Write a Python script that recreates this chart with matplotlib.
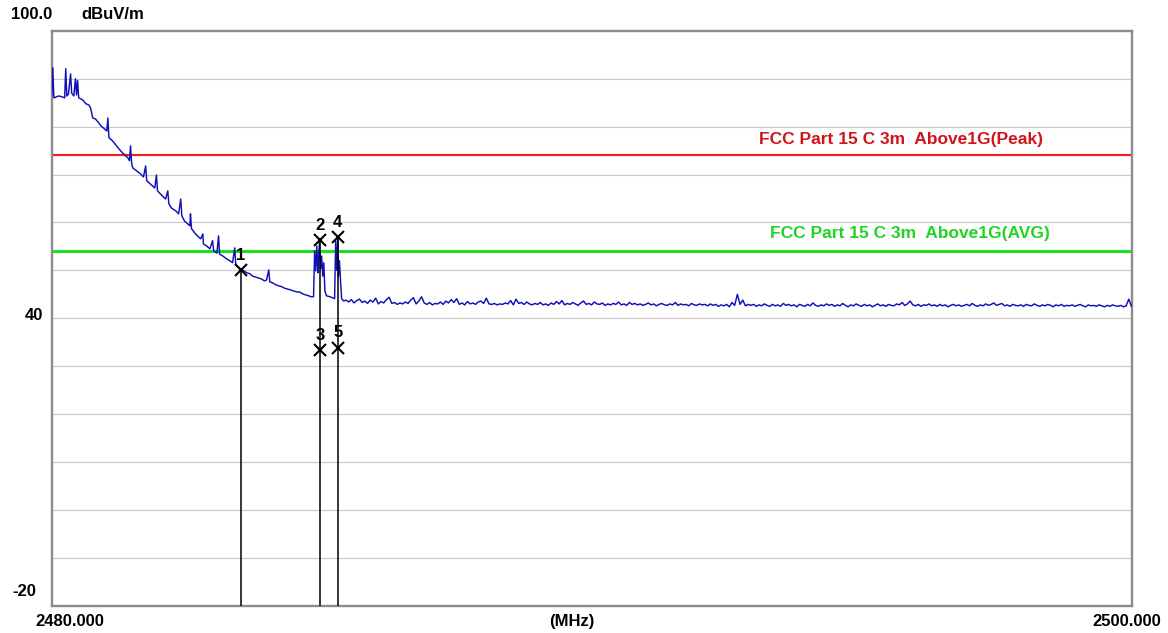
import numpy as np
import matplotlib
matplotlib.use("Agg")
import matplotlib.pyplot as plt

# ---------------- data ----------------
x_min, x_max = 2480.0, 2500.0
y_min, y_max = -20.0, 100.0
grid_levels = [-10, 0, 10, 20, 30, 40, 50, 60, 70, 80, 90]

# Trace, part A (band-edge skirt, irregular points): offset from 2480 MHz, level dBuV/m
seg_a_offset = [0.00, 0.02, 0.04, 0.13, 0.20, 0.24, 0.26, 0.28, 0.31, 0.35, 0.37, 0.41, 0.44, 0.46,
                0.48, 0.50, 0.54, 0.59, 0.63, 0.69, 0.72, 0.76, 0.81, 0.87, 0.91, 0.98, 1.02, 1.04,
                1.06, 1.13, 1.20, 1.28, 1.35, 1.41, 1.44, 1.46, 1.48, 1.50, 1.57, 1.65, 1.70, 1.74,
                1.76, 1.80, 1.87, 1.91, 1.94, 1.96, 2.02, 2.07, 2.11, 2.15, 2.17, 2.22, 2.30, 2.35,
                2.39, 2.41, 2.46, 2.52, 2.56, 2.57, 2.59, 2.65, 2.70, 2.76, 2.80, 2.81, 2.87, 2.93,
                2.98, 3.00, 3.06, 3.09, 3.11, 3.17, 3.24, 3.30, 3.35, 3.39, 3.41, 3.46, 3.50, 3.56,
                3.61, 3.67, 3.72, 3.78, 3.83, 3.89, 3.94, 3.98, 4.02, 4.04, 4.09, 4.15, 4.20, 4.26,
                4.31, 4.37, 4.43, 4.48, 4.54, 4.59, 4.65, 4.70, 4.76, 4.80, 4.85, 4.87, 4.89, 4.91,
                4.93, 4.94, 4.96, 4.98, 5.00, 5.02, 5.04, 5.06, 5.09, 5.15, 5.20, 5.24, 5.26, 5.28,
                5.30, 5.31, 5.33, 5.35, 5.37, 5.41]
seg_a_level = [86.4, 92.3, 86.0, 86.4, 86.2, 86.0, 92.1, 86.4, 86.8, 91.0, 87.0, 86.4, 90.0, 86.6,
               89.6, 86.0, 85.8, 85.4, 84.8, 84.5, 83.9, 81.8, 81.6, 80.8, 80.2, 79.5, 79.1, 81.8,
               77.7, 77.0, 76.0, 74.9, 74.1, 73.5, 72.9, 76.0, 72.4, 71.4, 70.8, 70.1, 69.5, 71.8,
               68.7, 68.3, 67.6, 67.2, 69.9, 66.6, 65.9, 65.3, 64.9, 66.6, 63.9, 63.0, 62.4, 61.8,
               64.9, 61.4, 60.3, 59.7, 59.3, 61.8, 58.7, 57.8, 57.2, 56.6, 57.6, 55.5, 55.1, 54.5,
               56.2, 54.1, 53.6, 57.2, 53.4, 53.0, 52.4, 52.0, 51.6, 54.7, 51.1, 50.7, 50.3, 49.9,
               49.5, 49.3, 48.8, 48.6, 48.4, 48.2, 47.8, 48.0, 50.1, 47.6, 47.4, 47.0, 46.8, 46.6,
               46.3, 46.1, 45.9, 45.7, 45.5, 45.5, 45.1, 44.9, 44.7, 44.5, 44.5, 54.1, 49.9, 55.1,
               49.5, 52.4, 55.8, 50.3, 53.0, 48.8, 51.6, 45.7, 44.7, 44.5, 44.3, 44.1, 56.2, 50.0,
               57.2, 48.8, 52.0, 47.8, 44.1, 43.6]

# Trace, part B (noise floor, uniform sweep points from 2485.45 to 2500 MHz)
seg_b_start, seg_b_stop = 2485.45, 2500.0
seg_b_level = [
    43.8, 43.4, 43.9, 43.2, 43.7, 44.0, 43.3, 43.6, 43.1, 43.8,
    43.4, 44.2, 43.0, 43.5, 43.2, 43.9, 44.4, 43.1, 43.3, 42.9,
    43.2, 43.0, 43.4, 43.1, 43.8, 44.3, 43.0, 43.6, 44.5, 43.2,
    42.9, 43.3, 42.8, 43.1, 43.0, 43.4, 42.9, 43.6, 43.2, 43.9,
    43.3, 44.1, 42.9, 43.2, 42.8, 43.5, 43.0, 43.2, 42.9, 43.4,
    43.6, 43.1, 44.2, 43.0, 42.9, 43.1, 42.8, 43.0, 42.9, 43.2,
    43.0, 43.7, 42.8, 44.0, 43.1, 43.3, 42.9, 43.4, 43.0, 42.8,
    43.1, 42.9, 43.3, 42.8, 43.0, 42.7, 43.2, 42.9, 43.5, 43.0,
    43.7, 42.8, 43.1, 42.9, 43.3, 43.0, 42.7, 43.2, 43.6, 42.9,
    43.1, 42.8, 43.4, 43.0, 42.9, 43.2, 42.7, 43.0, 42.8, 43.1,
    42.9, 43.4, 42.8, 43.0, 42.7, 43.3, 42.9, 43.1, 42.8, 43.0,
    42.7, 42.9, 43.2, 42.8, 43.0, 42.6, 42.9, 43.1, 42.8, 42.7,
    43.0, 42.8, 43.3, 42.7, 43.0, 42.8, 42.9, 42.6, 43.1, 42.8,
    42.7, 43.0, 42.8, 42.9, 42.6, 43.0, 42.7, 42.9, 42.5, 42.8,
    42.6, 42.9, 42.4, 43.3, 42.7, 45.0, 42.9, 43.8, 42.6, 42.9,
    42.7, 42.9, 42.5, 42.8, 42.6, 43.0, 42.7, 42.5, 42.9, 42.6,
    42.8, 42.5, 43.1, 42.7, 42.9, 42.6, 42.8, 42.4, 42.9, 42.7,
    42.5, 42.9, 42.6, 43.2, 42.7, 42.5, 42.8, 42.6, 43.0, 42.7,
    42.9, 42.5, 42.8, 42.6, 43.1, 42.7, 42.4, 42.8, 42.6, 43.0,
    42.7, 42.5, 42.9, 42.6, 42.8, 42.4, 42.7, 43.0, 42.6, 42.8,
    42.5, 42.9, 42.7, 42.6, 43.0, 42.8, 43.3, 42.7, 43.0, 43.6,
    42.8, 42.6, 42.9, 42.5, 42.8, 42.7, 43.0, 42.6, 42.8, 42.5,
    42.9, 42.6, 42.8, 42.4, 42.7, 42.9, 42.6, 42.8, 42.5, 42.7,
    42.9, 42.6, 43.1, 42.7, 42.5, 42.8, 42.6, 43.0, 42.7, 42.9,
    43.2, 42.7, 42.9, 43.1, 42.6, 42.8, 42.5, 42.9, 42.7, 42.6,
    42.8, 42.5, 42.9, 42.7, 42.6, 43.0, 42.7, 42.5, 42.8, 42.6,
    42.9, 42.7, 42.4, 42.8, 42.6, 42.9, 42.5, 42.7, 42.6, 42.8,
    42.5, 42.7, 42.9, 42.6, 42.4, 42.8, 42.6, 42.7, 42.5, 42.8,
    42.6, 42.4, 42.7, 42.5, 42.8, 42.6, 42.5, 42.7, 42.4, 42.6,
    44.0, 42.5]

peak_limit = 74.0
avg_limit = 54.0
peak_label = "FCC Part 15 C 3m  Above1G(Peak)"
avg_label = "FCC Part 15 C 3m  Above1G(AVG)"

marker_ids = ["1", "2", "3", "4", "5"]
marker_freq = [2483.50, 2484.97, 2484.97, 2485.30, 2485.30]
marker_level = [50.0, 56.3, 33.3, 56.9, 33.9]

unit_label = "dBuV/m"
x_unit_label = "(MHz)"
top_label = "100.0"
mid_label = "40"
bottom_label = "-20"
x_left_label = "2480.000"
x_right_label = "2500.000"

# ---------------- figure ----------------
W, H = 1168, 633
fig = plt.figure(figsize=(W / 100, H / 100), dpi=100)
fig.patch.set_facecolor("white")

def fx(p):
    return p / W

def fy(p):
    return 1 - p / H

ax_l, ax_r, ax_t, ax_b = 51.7, 1131.5, 30.8, 605.8
ax = fig.add_axes([fx(ax_l), fy(ax_b), fx(ax_r - ax_l), (ax_b - ax_t) / H])
ax.set_xlim(x_min, x_max)
ax.set_ylim(y_min, y_max)
ax.set_xticks([])
ax.set_yticks([])
for s in ax.spines.values():
    s.set_color("#8c8c8c")
    s.set_linewidth(1.7)

for g in grid_levels:
    ax.axhline(g, color="#c8c8c8", lw=0.8, zorder=1)

ax.axhline(peak_limit, color="#e8231e", lw=1.6, zorder=2)
ax.axhline(avg_limit, color="#1fe01f", lw=2.2, zorder=2)

freq_a = [x_min + o for o in seg_a_offset]
freq_b = np.linspace(seg_b_start, seg_b_stop, len(seg_b_level))
trace_f = np.concatenate([freq_a, freq_b])
trace_l = np.concatenate([seg_a_level, seg_b_level])
ax.plot(trace_f, trace_l, color="#1010b8", lw=1.05, zorder=3)

# marker vertical lines
line_tops = {}
for f, l in zip(marker_freq, marker_level):
    line_tops[f] = max(l, line_tops.get(f, -1e9))
for f, top in line_tops.items():
    ax.plot([f, f], [y_min, top], color="black", lw=1.1, zorder=4)

ax.plot(marker_freq, marker_level, linestyle="none", marker="x", markersize=8,
        mew=1.5, color="black", zorder=5)
for mid, f, l in zip(marker_ids, marker_freq, marker_level):
    ax.annotate(mid, xy=(f, l), xytext=(0, 10.5), textcoords="offset points",
                ha="center", va="center", fontsize=12, fontweight="bold",
                family="Liberation Sans", color="black", zorder=6)

tfont = dict(family="Liberation Sans", fontweight="bold", fontsize=12.5)
ax.annotate(peak_label, xy=(2495.73, peak_limit), xytext=(0, 11.5), textcoords="offset points",
            ha="center", va="center", color="#d0141a", **tfont)
ax.annotate(avg_label, xy=(2495.9, avg_limit), xytext=(0, 13), textcoords="offset points",
            ha="center", va="center", color="#22d422", **tfont)

lfont = dict(family="Liberation Sans", fontweight="bold", fontsize=12, color="black")
fig.text(fx(11), fy(14.5), top_label, ha="left", va="center", **lfont)
fig.text(fx(81), fy(14.5), unit_label, ha="left", va="center", **lfont)
fig.text(fx(43), fy(315.5), mid_label, ha="right", va="center", **lfont)
fig.text(fx(36), fy(591), bottom_label, ha="right", va="center", **lfont)
fig.text(fx(35), fy(621.5), x_left_label, ha="left", va="center", **lfont)
fig.text(fx(572), fy(621.5), x_unit_label, ha="center", va="center", **lfont)
fig.text(fx(1161), fy(621.5), x_right_label, ha="right", va="center", **lfont)

fig.savefig("out.png", dpi=100, facecolor="white")
